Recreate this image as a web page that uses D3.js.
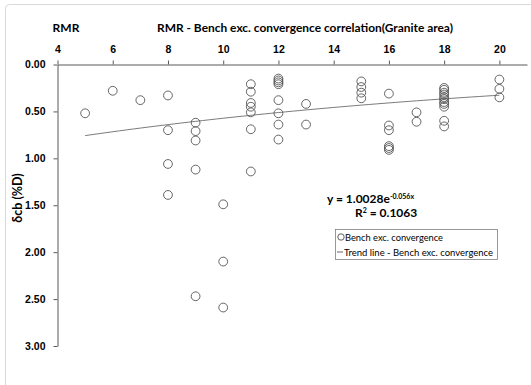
<!DOCTYPE html>
<html lang="en">
<head>
<meta charset="UTF-8">
<title>RMR - Bench exc. convergence</title>
<script src="https://d3js.org/d3.v7.min.js"></script>
<style>
    body { margin: 0; background: #fff; }
    svg { font-family: Lato, "Open Sans", sans-serif; }
    .axis path, .axis line { stroke: #595959; }
    .axis text { font-size: 10.5px; font-weight: bold; fill: #000; }
</style>
</head>
<body>
<svg width="531" height="385"></svg>
<script>
    // RMR value of each measurement (x) and convergence δcb in %D (y)
    var rmr = [5, 6, 7,
        8, 8, 8, 8,
        9, 9, 9, 9, 9,
        10, 10, 10,
        11, 11, 11, 11, 11, 11, 11,
        12, 12, 12, 12, 12, 12, 12, 12,
        13, 13,
        15, 15, 15, 15,
        16, 16, 16, 16, 16, 16,
        17, 17,
        18, 18, 18, 18, 18, 18, 18, 18, 18, 18, 18,
        20, 20, 20];
    var conv = [0.52, 0.28, 0.38,
        0.33, 0.70, 1.06, 1.39,
        0.62, 0.71, 0.81, 1.12, 2.47,
        1.49, 2.10, 2.59,
        0.21, 0.29, 0.41, 0.45, 0.51, 0.69, 1.14,
        0.15, 0.17, 0.19, 0.21, 0.38, 0.52, 0.64, 0.80,
        0.42, 0.64,
        0.18, 0.24, 0.30, 0.36,
        0.31, 0.65, 0.70, 0.87, 0.89, 0.91,
        0.51, 0.61,
        0.25, 0.27, 0.30, 0.32, 0.35, 0.37, 0.40, 0.42, 0.45, 0.60, 0.66,
        0.16, 0.26, 0.35];

    var xTicks = [4, 6, 8, 10, 12, 14, 16, 18, 20];
    var yTicks = [0, 0.5, 1, 1.5, 2, 2.5, 3];

    // exponential trend line as printed on the chart
    var trendA = 1.0028, trendB = -0.056, trendR2 = 0.1063;
    var trendX = [5, 20];

    var svg = d3.select("svg");

    // outer chart frame
    svg.append("rect")
        .attr("x", 5.5).attr("y", 4.5)
        .attr("width", 560).attr("height", 420)
        .attr("rx", 4)
        .attr("fill", "#fff")
        .attr("stroke", "#d9d9d9");

    var x = d3.scaleLinear().domain([4, 21]).range([57.5, 527]);
    var y = d3.scaleLinear().domain([0, 3]).range([64.5, 346]);

    svg.append("g")
        .attr("class", "axis")
        .attr("transform", "translate(0," + y(0) + ")")
        .call(d3.axisTop(x).tickValues(xTicks).tickSize(4).tickPadding(8).tickSizeOuter(0));

    svg.append("g")
        .attr("class", "axis")
        .attr("transform", "translate(" + x(4) + ",0)")
        .call(d3.axisLeft(y).tickValues(yTicks).tickFormat(d3.format(".2f")).tickSize(4).tickPadding(8).tickSizeOuter(0));

    // titles
    svg.append("text")
        .attr("x", 66).attr("y", 32)
        .attr("text-anchor", "middle")
        .attr("font-size", "12px").attr("font-weight", "bold")
        .text("RMR");

    svg.append("text")
        .attr("x", 305).attr("y", 32)
        .attr("text-anchor", "middle")
        .attr("font-size", "12px").attr("font-weight", "bold")
        .attr("textLength", 296).attr("lengthAdjust", "spacingAndGlyphs")
        .text("RMR - Bench exc. convergence correlation(Granite area)");

    svg.append("text")
        .attr("transform", "translate(22,198) rotate(-90)")
        .attr("text-anchor", "middle")
        .attr("font-size", "12.5px").attr("font-weight", "bold")
        .text("δcb (%D)");

    // trend line
    var trendPts = d3.range(trendX[0], trendX[1] + 0.01, 0.25).map(function (v) {
        return [v, trendA * Math.exp(trendB * v)];
    });
    svg.append("path")
        .datum(trendPts)
        .attr("fill", "none")
        .attr("stroke", "#595959")
        .attr("stroke-width", 0.8)
        .attr("d", d3.line()
            .x(function (d) { return x(d[0]); })
            .y(function (d) { return y(d[1]); }));

    // points
    svg.selectAll("circle.pt")
        .data(rmr)
        .enter().append("circle")
        .attr("class", "pt")
        .attr("cx", function (d) { return x(d); })
        .attr("cy", function (d, i) { return y(conv[i]); })
        .attr("r", 4.4)
        .attr("fill", "none")
        .attr("stroke", "#555")
        .attr("stroke-width", 0.9);

    // equation
    var eq = svg.append("text")
        .attr("x", 327).attr("y", 203)
        .attr("font-size", "12px").attr("font-weight", "bold");
    eq.append("tspan").text("y = " + trendA.toFixed(4) + "e");
    eq.append("tspan").attr("dy", -4).attr("font-size", "7px").text(trendB.toFixed(3) + "x");

    var r2 = svg.append("text")
        .attr("x", 355).attr("y", 217)
        .attr("font-size", "12px").attr("font-weight", "bold");
    r2.append("tspan").text("R");
    r2.append("tspan").attr("dy", -4).attr("font-size", "7px").text("2");
    r2.append("tspan").attr("dy", 4).text(" = " + trendR2.toFixed(4));

    // legend
    var lg = svg.append("g").attr("transform", "translate(335,229)");
    lg.append("rect")
        .attr("x", 0.5).attr("y", 0.5)
        .attr("width", 162).attr("height", 30)
        .attr("fill", "#fff").attr("stroke", "#7f7f7f").attr("stroke-width", 0.8);
    lg.append("circle")
        .attr("cx", 6).attr("cy", 8)
        .attr("r", 3.2).attr("fill", "none").attr("stroke", "#4d4d4d").attr("stroke-width", 0.9);
    lg.append("text")
        .attr("x", 10).attr("y", 11.5)
        .attr("font-size", "10px")
        .attr("textLength", 98).attr("lengthAdjust", "spacingAndGlyphs")
        .text("Bench exc. convergence");
    lg.append("line")
        .attr("x1", 2).attr("x2", 8).attr("y1", 23).attr("y2", 23)
        .attr("stroke", "#595959").attr("stroke-width", 0.9);
    lg.append("text")
        .attr("x", 9).attr("y", 26.5)
        .attr("font-size", "10px")
        .attr("textLength", 149).attr("lengthAdjust", "spacingAndGlyphs")
        .text("Trend line - Bench exc. convergence");
</script>
</body>
</html>
